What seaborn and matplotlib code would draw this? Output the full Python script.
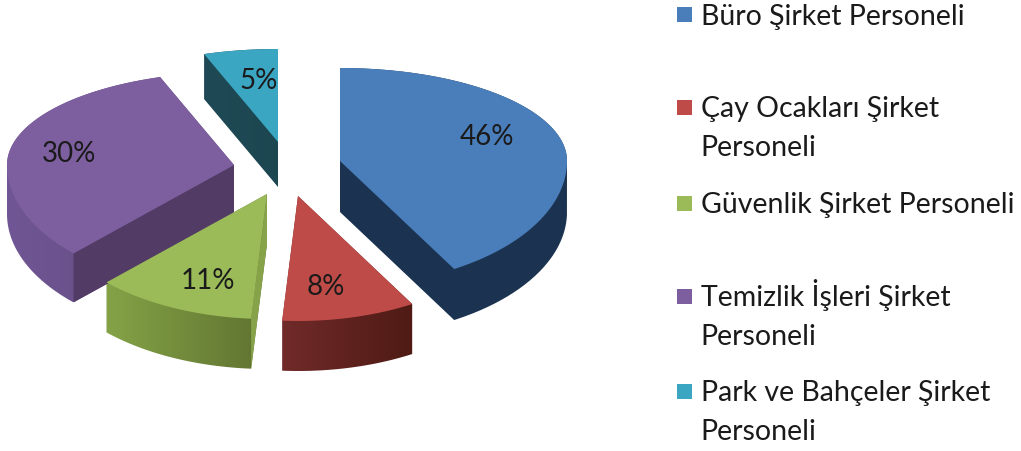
import numpy as np
import matplotlib
matplotlib.use("Agg")
import matplotlib.pyplot as plt
import seaborn as sns
from matplotlib.transforms import Transform, Affine2D
from matplotlib.path import Path
from matplotlib.patches import PathPatch, Rectangle, Polygon
from matplotlib.colors import LinearSegmentedColormap

sns.set_theme(style="white")
plt.rcParams['font.family'] = ['Lato', 'DejaVu Sans']

categories = ["Büro Şirket Personeli", "Çay Ocakları Şirket\nPersoneli", "Güvenlik Şirket Personeli",
              "Temizlik İşleri Şirket\nPersoneli", "Park ve Bahçeler Şirket\nPersoneli"]
values = [46, 8, 11, 30, 5]

top_colors = ["#4a7ebb", "#be4b48", "#9bbb59", "#7d5f9f", "#3ba6c2"]
side_left = ["#1b3350", "#702a2a", "#84a347", "#705694", "#1f4a55"]
side_right = ["#1b3350", "#4f1b14", "#5f7230", "#5e4779", "#1c4650"]
inner_face = [None, None, "#86a34a", "#523c66", None]
apex = [(340, 162), (299, 197), (267, 195), (234, 166), (278, 143)]
depth = [51, 50, 50, 49, 45]
label_pos = [(487, 137), (326, 287), (208, 281), (69, 154), (259, 81)]
legend_y = [15, 108, 204, 297, 392]
RX, RY_BACK, RY_FRONT = 227, 93, 125
# perspective of the drawing: where each clockwise pie angle lands on the ellipse
ANGLE_IN = [0, 165.6, 194.4, 234, 342, 360]
ANGLE_OUT = [0, 149.8, 184, 225, 341, 360]
RED_NUDGE = -1


def warp_xy(xy):
    xy = np.asarray(xy, float)
    r = np.hypot(xy[:, 0], xy[:, 1])
    t = np.degrees(np.arctan2(xy[:, 0], xy[:, 1])) % 360
    t2 = np.radians(np.interp(t, ANGLE_IN, ANGLE_OUT))
    X = r * np.sin(t2)
    Y = r * np.cos(t2)
    return np.column_stack([RX * X, -np.where(Y > 0, RY_BACK, RY_FRONT) * Y])


def densify(path):
    pts = path.to_polygons(closed_only=False)[0]
    out = [pts[0]]
    for p, q in zip(pts[:-1], pts[1:]):
        rp, rq = np.hypot(*p), np.hypot(*q)
        if rp > 0.5 and rq > 0.5:
            tp, tq = np.arctan2(p[1], p[0]), np.arctan2(q[1], q[0])
            dt = (tq - tp + np.pi) % (2 * np.pi) - np.pi
            for f in np.linspace(0, 1, 25)[1:]:
                out.append([np.cos(tp + f * dt), np.sin(tp + f * dt)])
        else:
            out.append(q)
    return np.array(out)


class Warp(Transform):
    input_dims = output_dims = 2
    is_affine = False
    has_inverse = False

    def transform_non_affine(self, values):
        return warp_xy(values)

    def transform_path_non_affine(self, path):
        return Path(warp_xy(densify(path)))


def hull(points):
    pts = sorted(map(tuple, points))

    def half(seq):
        out = []
        for p in seq:
            while len(out) > 1:
                a, b = np.subtract(out[-1], out[-2]), np.subtract(p, out[-1])
                if a[0] * b[1] - a[1] * b[0] <= 0:
                    out.pop()
                else:
                    break
            out.append(p)
        return out[:-1]
    return np.array(half(pts) + half(pts[::-1]))


fig = plt.figure(figsize=(10.21, 4.52), dpi=100)
ax = fig.add_axes([0, 0, 1, 1])
wedges, _, autotexts = ax.pie(values, startangle=90, counterclock=False, colors=top_colors,
                              autopct=lambda p: f"{p:.0f}%", radius=1,
                              textprops=dict(fontsize=20, color="#1a1a1a"))
start = np.cumsum([0] + values[:-1]) * 3.6
for i in range(len(values)):
    w = wedges[i]
    a = np.array(apex[i], float)
    if i == 1:
        a = a + [RED_NUDGE, 0]
    d = depth[i]
    poly = warp_xy(densify(w.get_path())) + a
    w.set_transform(Warp() + Affine2D().translate(*a) + ax.transData)
    w.set_linewidth(0)
    w.set_zorder(3)
    pts = hull(np.vstack([poly, poly + [0, d]]))
    clip = PathPatch(Path(np.vstack([pts, pts[:1]])), transform=ax.transData, fc="none", ec="none")
    ax.add_patch(clip)
    cmap = LinearSegmentedColormap.from_list("s", [side_left[i], side_right[i]])
    im = ax.imshow(np.linspace(0, 1, 128)[None, :], cmap=cmap, aspect='auto', zorder=2,
                   extent=(pts[:, 0].min(), pts[:, 0].max(), pts[:, 1].max(), pts[:, 1].min()))
    im.set_clip_path(clip)
    if inner_face[i]:
        th = np.radians(start[i] + 0.01)
        e = warp_xy([[np.sin(th), np.cos(th)]])[0] + a
        ax.add_patch(Polygon([a, e, e + [0, d], a + [0, d]], fc=inner_face[i], ec="none", zorder=2.5))
    autotexts[i].set_position(label_pos[i])
    autotexts[i].set_zorder(5)
ax.set_aspect('auto')
ax.set_xlim(0, 1021)
ax.set_ylim(452, 0)
ax.set_frame_on(False)

for y, name, c in zip(legend_y, categories, top_colors):
    ax.add_patch(Rectangle((677, y - 7.5), 15, 15, fc=c, ec="none", zorder=4))
    ax.text(700.5, y + 9.5, name.split("\n")[0], fontsize=20.5, va="baseline", ha="left", color="#1a1a1a")
    if "\n" in name:
        ax.text(700.5, y + 48.5, name.split("\n")[1], fontsize=20.5, va="baseline", ha="left", color="#1a1a1a")

fig.savefig("out.png", dpi=100)
